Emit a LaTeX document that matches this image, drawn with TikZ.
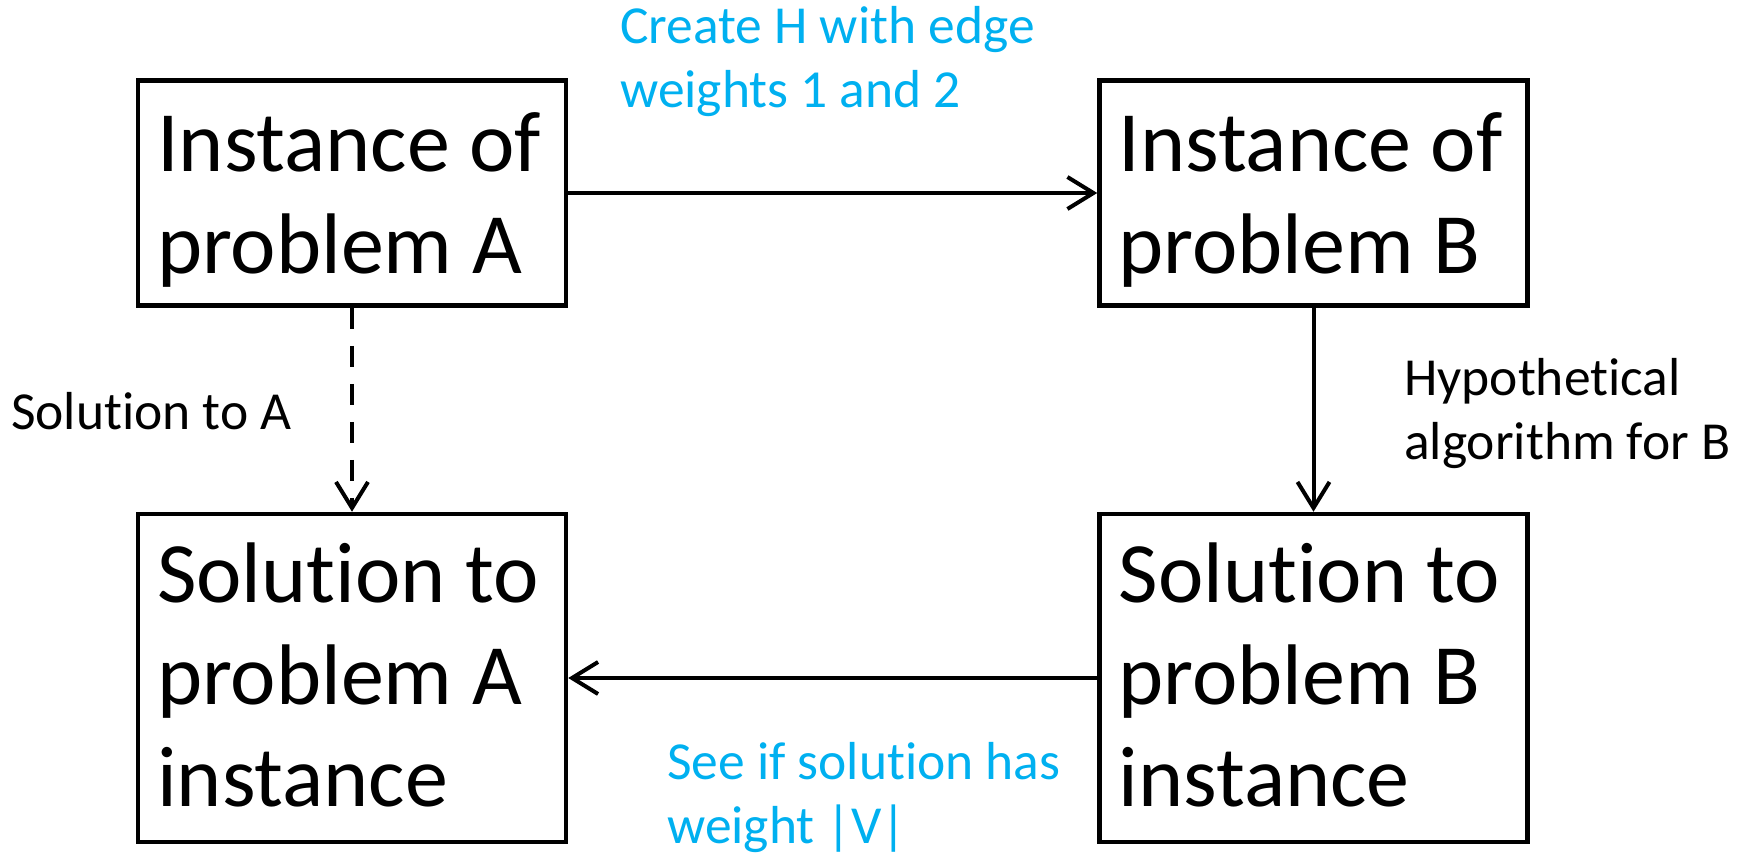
\documentclass[tikz,border=0pt]{standalone}
\usepackage{fontspec}
\setmainfont{Carlito}[Ligatures=NoCommon]
\usetikzlibrary{arrows.meta}
\definecolor{labelblue}{RGB}{0,176,240}
\begin{document}
\begin{tikzpicture}[x=1pt,y=-1pt,
  box/.style={draw, line width=4.5pt, minimum width=428pt, inner sep=0pt},
  boxtext/.style={anchor=base west, align=left, inner sep=0pt,
    font=\fontsize{86}{102}\selectfont},
  conn/.style={line width=4pt, -{Straight Barb[length=26pt,width=32pt,line width=4pt]}},
  lbl/.style={anchor=base west, align=left, inner sep=0pt,
    font=\fontsize{53.5}{64}\selectfont}]
\useasboundingbox (0,0) rectangle (1746,853);
% the four boxes
\node[box, minimum height=225pt] (A) at (352,193) {};
\node[box, minimum height=225pt] (B) at (1313.5,193) {};
\node[box, minimum height=328pt] (SA) at (352,678) {};
\node[box, minimum height=328pt] (SB) at (1313.5,678) {};
% box texts (anchored at the baseline of their last line)
\node[boxtext] (tA) at (157,273) {Instance of\\problem A};
\node[boxtext] (tB) at (1118.5,273) {Instance of\\problem B};
\node[boxtext] (tSA) at (157,806) {Solution to\\problem A\\instance};
\node[boxtext] (tSB) at (1118.5,806) {Solution to\\problem B\\instance};
% connectors
\draw[conn] (A.east) -- (B.west);
\draw[conn] (B.south) -- (SB.north);
\draw[conn] (SB.west) -- (SA.east);
\draw[conn, dash pattern=on 21pt off 17pt] (A.south) -- (SA.north);
% labels
\node[lbl, text=labelblue] (l1) at (620,108) {Create H with edge\\weights 1 and 2};
\node[lbl] (l2) at (11,429) {Solution to A};
\node[lbl] (l3) at (1404,459) {Hypothetical\\algorithm for B};
\node[lbl, text=labelblue] (l4) at (667,843) {See if solution has\\weight |V|};
\end{tikzpicture}
\end{document}
